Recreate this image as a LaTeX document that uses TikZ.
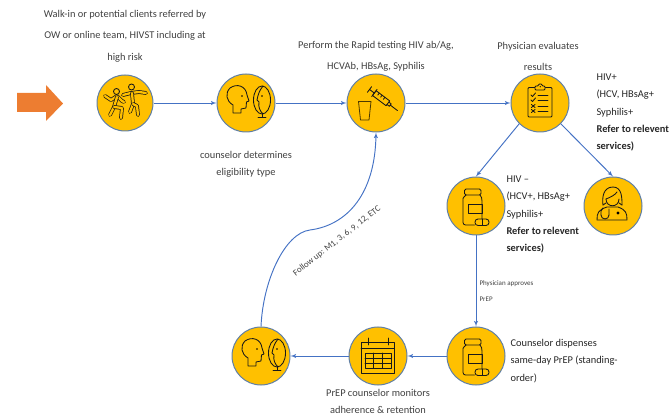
\documentclass[tikz,border=0pt]{standalone}
\usepackage{fontspec}
\setmainfont{Carlito}
\usetikzlibrary{shapes,arrows}
\definecolor{gold}{HTML}{FFC000}
\definecolor{ringblue}{HTML}{5F7FA6}
\definecolor{lineblue}{HTML}{4472C4}
\definecolor{darrow}{HTML}{ED7D31}
\definecolor{inktext}{HTML}{404040}
\tikzstyle{stage} = [circle, draw=ringblue, fill=gold, line width=1pt, inner sep=0pt, minimum size=58pt]
\tikzstyle{line} = [draw, -latex', lineblue, line width=0.95pt]
\tikzstyle{ink} = [draw=black!90, line width=0.85pt, line join=round, line cap=round]
\tikzstyle{wide} = [text=inktext, align=center, font=\fontsize{10.4}{21.5}\selectfont]
\tikzstyle{tight} = [text=inktext, align=center, font=\fontsize{10.4}{17.2}\selectfont]
\tikzstyle{side} = [text=black!85, align=left, anchor=west, font=\fontsize{10.4}{17.4}\selectfont]
\tikzset{
  limb/.style={draw=black!90, double=gold, double distance=2.3pt, line width=0.75pt, line join=round, line cap=round},
  danceicon/.pic={
    % left figure
    \draw[limb] (-20,7) -- (-14,3) -- (-8,7) -- (-3,2) -- (-1,1);
    \draw[limb] (-8,6) -- (-11,-4) -- (-15,-12);
    \draw[limb] (-11,-4) -- (-3,-5) -- (-4,-15);
    \filldraw[ink, fill=gold] (-8.5,11.5) circle (3);
    % right figure
    \draw[limb] (-2,8) -- (6,10) -- (14,11) -- (21,10);
    \draw[limb] (7,10) -- (8,-1) -- (5,-9);
    \draw[limb] (8,-1) -- (12,-3) -- (13,-12);
    \filldraw[ink, fill=gold] (6.5,16) circle (3);
  },
  faceicon/.pic={
    \draw[ink] (-13,-10) -- (-13,-2) .. controls (-20,2) and (-21,10) .. (-16,15)
      .. controls (-9,20) and (0,17) .. (1,8) -- (3,2) -- (0.5,1) -- (0,-5) -- (-5,-6) -- (-5,-10) -- cycle;
    \fill[black] (-4,7) circle (0.9);
    \draw[ink] (16,3) ellipse (8.5 and 14);
    \draw[ink] (17,17) .. controls (13,12) and (12,8) .. (11,3) -- (13,1) .. controls (12,-4) and (14,-8) .. (17,-11);
    \fill[black] (16,7) circle (0.9);
    \draw[ink] (16,-11) -- (16,-14) (12,-14.5) -- (20,-14.5);
  },
  testicon/.pic={
    % syringe
    \begin{scope}[shift={(5.5,4.5)}, rotate=-37]
      \draw[ink] (-9,-3) rectangle (8,3);
      \draw[ink] (-5,3) -- (-5,0.5) (-1.5,3) -- (-1.5,0.5) (2,3) -- (2,0.5);
      \draw[ink] (-9,0) -- (-15,0) (-15,-3.5) -- (-15,3.5) (-9,-4.5) -- (-9,4.5);
      \draw[ink] (8,-1.5) -- (11,-1.5) -- (11,1.5) -- (8,1.5) (11,0) -- (20,0);
    \end{scope}
    % cup
    \draw[draw=black!70!gold, line width=0.8pt, line join=round] (-17.5,1.5) -- (-5,1.5) -- (-7,-17) -- (-15.5,-17) -- cycle;
  },
  clipicon/.pic={
    \draw[ink, rounded corners=1pt] (-12,15.5) rectangle (12,-14);
    \draw[ink, fill=gold, rounded corners=1pt] (-5,17) -- (-1.5,17) -- (-1.5,19) -- (2,19) -- (2,17) -- (5,17) -- (5,13) -- (-5,13) -- cycle;
    \fill[black] (0.2,16.3) circle (0.6);
    \foreach \ypos in {8,3,-3,-8} {
      \draw[ink] (-2,\ypos) -- (8,\ypos);
    }
    \draw[ink] (-9,8) -- (-7.5,6.5) -- (-4.5,10) (-9,3) -- (-7.5,1.5) -- (-4.5,5);
    \draw[ink] (-8.5,-1.5) -- (-5,-4.5) (-8.5,-4.5) -- (-5,-1.5) (-8.5,-6.5) -- (-5,-9.5) (-8.5,-9.5) -- (-5,-6.5);
  },
  bottleicon/.pic={
    \draw[ink, rounded corners=1.5pt] (-11.5,17) rectangle (5,11);
    \draw[ink, rounded corners=2.5pt] (-10,11) .. controls (-12,9) and (-13,8) .. (-13,5) -- (-13,-19) -- (-1.5,-19);
    \draw[ink] (4,11) .. controls (5.5,9) and (6,8) .. (6,5) -- (6,-13);
    \draw[ink] (-8,2) rectangle (6,-7.5);
    \draw[ink, rounded corners=3pt] (-1,-13) rectangle (13,-19.5);
    \draw[ink] (6,-13) -- (6,-19.5);
  },
  doctoricon/.pic={
    \draw[ink] (-10,1) .. controls (-11,8) and (-10,19) .. (0,19) .. controls (9,19) and (9,8) .. (9,1);
    \draw[ink] (-7,7) .. controls (-2,9) and (2,11) .. (4,14);
    \draw[ink] (-7,7) .. controls (-7,-2) and (6,-2) .. (6,7);
    \draw[ink] (-10,1) -- (-7,3) (9,1) -- (6,3);
    \draw[ink] (-16,-14) .. controls (-16,-7) and (-15,-4) .. (-6,-1) -- (5,-1) .. controls (13,-4) and (14,-7) .. (14,-14) -- cycle;
    \draw[ink] (-10,-2) -- (-12,-5) -- (-12,-9) (-4,-3) -- (-4,-9);
    \draw[ink] (-12,-9) arc (180:360:4);
    \fill[black] (5,-7) circle (1.6);
  },
  calendaricon/.pic={
    \draw[ink] (-17,14) rectangle (16,-17);
    \draw[ink] (-17,8) -- (16,8);
    \draw[ink] (-10,18) -- (-10,11) (10,18) -- (10,11);
    \draw[ink] (-13,3) rectangle (13,-12);
    \draw[ink] (-13,-2) -- (13,-2) (-13,-7) -- (13,-7);
    \draw[ink] (-4.3,3) -- (-4.3,-12) (4.3,3) -- (4.3,-12);
  }
}
\begin{document}
\begin{tikzpicture}[x=1pt, y=1pt]
    \useasboundingbox (0,0) rectangle (669,415);

    % Place nodes
    \node [stage, minimum size=56pt] (dance) at (125,312) {};
    \node [stage, right of=dance, node distance=121pt] (face) {};
    \node [stage, right of=face, node distance=130pt] (test) {};
    \node [stage, right of=test, node distance=164pt] (clip) {};
    \node [stage] (bottleA) at (476,209) {};
    \node [stage, right of=bottleA, node distance=137pt] (doctor) {};
    \node [stage, below of=bottleA, node distance=150pt] (bottleB) {};
    \node [stage, left of=bottleB, node distance=98pt] (calendar) {};
    \node [stage, left of=calendar, node distance=117pt] (faceB) {};
    \coordinate (bend) at (310,185);

    % Icons
    \pic at (dance) {danceicon};
    \pic at (face) {faceicon};
    \pic at (test) {testicon};
    \pic at (clip) {clipicon};
    \pic at (bottleA) {bottleicon};
    \pic at (doctor) {doctoricon};
    \pic at (bottleB) {bottleicon};
    \pic at (calendar) {calendaricon};
    \pic at (faceB) {faceicon};

    % Start arrow
    \fill [darrow] (17,322) -- (46,322) -- (46,330) -- (63,311.5) -- (46,294) -- (46,303) -- (17,303) -- cycle;

    % Labels
    \node [wide] (walkin) at (125,379) {Walk-in or potential clients referred by\\OW or online team, HIVST including at\\high risk};
    \node [wide] (perform) at (376,358.5) {Perform the Rapid testing HIV ab/Ag,\\HCVAb, HBsAg, Syphilis};
    \node [wide] (evaluate) at (538,358.5) {Physician evaluates\\results};
    \node [tight] (determine) at (246,251) {counselor determines\\eligibility type};
    \node [tight] (monitor) at (378,13.5) {PrEP counselor monitors\\adherence \& retention};
    \node [side] (hivpos) at (593,302.5) {HIV+\\(HCV, HBsAg+\\Syphilis+\\\textbf{Refer to relevent}\\\textbf{services)}};
    \node [side] (hivneg) at (503,200.5) {HIV --\\(HCV+, HBsAg+\\Syphilis+\\\textbf{Refer to relevent}\\\textbf{services)}};
    \node [side] (dispense) at (507,54) {Counselor dispenses\\same-day PrEP (standing-\\order)};
    \node [side, text=inktext, font=\fontsize{7}{16}\selectfont] (approve) at (476,124) {Physician approves\\PrEP};
    \node [text=inktext, rotate=38, font=\fontsize{8.8}{9}\selectfont] (follow) at (337,174) {Follow up: M1, 3, 6, 9, 12, ETC};

    % Draw edges
    \path [line] (dance) -- (face);
    \path [line] (face) -- (test);
    \path [line] (test) -- (clip);
    \path [line] (clip.south west) -- (bottleA.north);
    \path [line] (clip.south east) -- (doctor.north);
    \path [line] (bottleA) -- (bottleB);
    \path [line] (bottleB) -- (calendar);
    \path [line] (calendar) -- (faceB);
    \path [line] (faceB.north) .. controls (263,135) and (285,182) .. (bend) .. controls (348,190) and (375,222) .. (test.south);
\end{tikzpicture}
\end{document}
